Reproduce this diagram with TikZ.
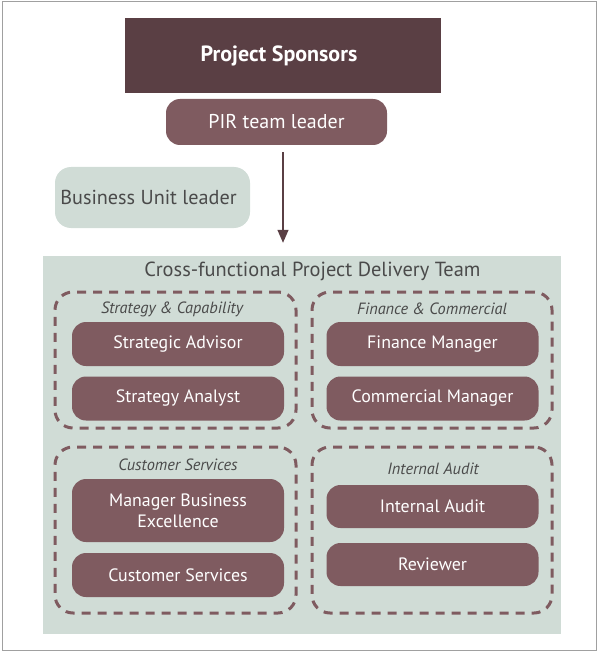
\documentclass[tikz,border=0pt]{standalone}
\usepackage{fontspec}
\setmainfont{PT Sans}
\usetikzlibrary{arrows.meta}
\definecolor{sponsor}{HTML}{5A3F44}
\definecolor{boxc}{HTML}{7F5B60}
\definecolor{panel}{HTML}{D0DCD6}
\definecolor{txtgray}{HTML}{4A4A4A}
\definecolor{frame}{HTML}{A0A0A0}
\tikzset{
  rolebox/.style={draw=none, fill=boxc, rounded corners=14pt, text=white,
    minimum width=212pt, minimum height=44pt, inner sep=0pt, align=center,
    font=\fontsize{17.9}{21}\selectfont},
  groupbox/.style={draw=boxc, line width=3pt, dash pattern=on 9pt off 7pt,
    rounded corners=18pt, inner sep=0pt, fill=none},
  grouplabel/.style={text=txtgray, font=\fontsize{16.3}{19}\selectfont\itshape, inner sep=0pt},
}
\begin{document}
\begin{tikzpicture}[x=1pt,y=-1pt]
\useasboundingbox (0,0) rectangle (600,655);
\node[draw=frame, line width=1pt, minimum width=594pt, minimum height=648pt, inner sep=0pt] (frame) at (299,326) {};
% top
\node[fill=sponsor, text=white, minimum width=316pt, minimum height=75pt, inner sep=0pt,
  font=\fontsize{22}{26}\selectfont\bfseries] (sponsors) at (283,55.5) {\hspace*{-8pt}Project Sponsors};
\node[fill=boxc, text=white, rounded corners=14pt, minimum width=221pt, minimum height=46pt, inner sep=0pt,
  font=\fontsize{20}{24}\selectfont] (pir) at (276.5,122) {PIR team leader};
\node[fill=panel, text=txtgray, rounded corners=16pt, minimum width=195pt, minimum height=61pt, inner sep=0pt,
  font=\fontsize{20.2}{24}\selectfont] (bul) at (152.5,197.5) {\hspace*{-8pt}Business Unit leader};
% panel
\node[fill=panel, minimum width=518pt, minimum height=378pt, inner sep=0pt] (panel) at (302,445) {};
\node[text=txtgray, font=\fontsize{20.4}{24}\selectfont, inner sep=0pt] (ptitle) at (312.5,271) {Cross-functional Project Delivery Team};
\coordinate (ax) at (283,0);
\draw[sponsor, line width=1.3pt, -{Triangle[length=13pt,width=11pt]}, shorten <=7pt, shorten >=13pt]
  (pir.south -| ax) -- (panel.north -| ax);
% groups
\node[groupbox, minimum width=241pt, minimum height=136pt] (g1) at (175.5,360) {};
\node[groupbox, minimum width=240pt, minimum height=136pt] (g2) at (432,360) {};
\node[groupbox, minimum width=241pt, minimum height=166pt] (g3) at (175.5,530) {};
\node[groupbox, minimum width=240pt, minimum height=166pt] (g4) at (432,530) {};
% group labels
\node[grouplabel] (l1) at (172,309) {Strategy \& Capability};
\node[grouplabel] (l2) at (432,309) {Finance \& Commercial};
\node[grouplabel] (l3) at (178,465) {Customer Services};
\node[grouplabel] (l4) at (433,469) {Internal Audit};
% role boxes
\node[rolebox] (sa) at (178,344) {Strategic Advisor};
\node[rolebox] (san) at (178,398.5) {Strategy Analyst};
\node[rolebox] (fm) at (432.5,344) {Finance Manager};
\node[rolebox] (cm) at (432.5,398.5) {Commercial Manager};
\node[rolebox, minimum height=63pt] (mbe) at (178,510.5) {Manager Business\\Excellence};
\node[rolebox] (cs) at (178,575) {Customer Services};
\node[rolebox, minimum height=43pt] (ia) at (432.5,506.5) {Internal Audit};
\node[rolebox, minimum height=43pt] (rev) at (432.5,564.5) {Reviewer};
\end{tikzpicture}
\end{document}
